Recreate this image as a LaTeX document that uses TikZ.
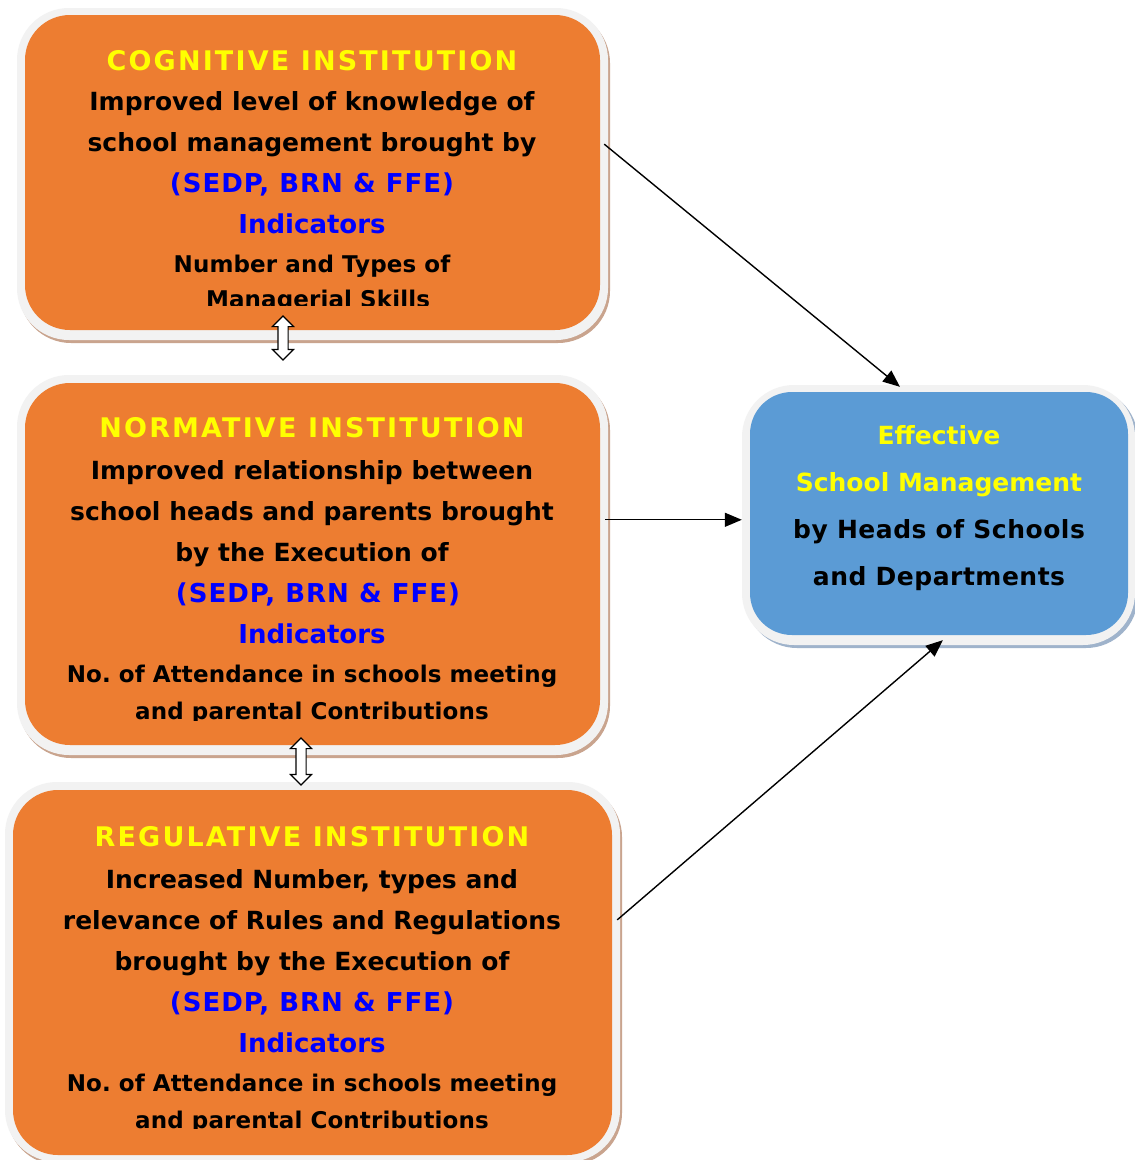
\documentclass[tikz,border=0pt]{standalone}
\usepackage{fontspec}
\setmainfont{DejaVu Sans}
\usetikzlibrary{shapes.arrows,arrows.meta,calc}
\definecolor{orng}{HTML}{ED7D31}
\definecolor{bluebox}{HTML}{5B9BD5}
\definecolor{halo}{HTML}{F2F2F2}
\definecolor{brsh}{HTML}{C9A48E}
\definecolor{blsh}{HTML}{9FB3CB}
\definecolor{ylw}{HTML}{FFFF00}
\definecolor{blu}{HTML}{0000FF}
\begin{document}
\begin{tikzpicture}[x=1pt,y=-1pt,
  panel/.style={rectangle, inner sep=0, draw=none, rounded corners=45pt},
  halobox/.style={rectangle, inner sep=0, draw=none, fill=halo, rounded corners=52pt},
  shadowbox/.style={rectangle, inner sep=0, draw=none, rounded corners=52pt},
  txt/.style={font=\bfseries\fontsize{25}{28}\selectfont, anchor=base, inner sep=0},
  small/.style={txt, font=\bfseries\fontsize{23}{26}\selectfont\addfontfeature{LetterSpace=0.5}},
  ttl/.style={txt, text=ylw, font=\bfseries\fontsize{27}{30}\selectfont\addfontfeature{LetterSpace=8}},
  ettl/.style={txt, text=ylw, font=\bfseries\fontsize{25}{28}\selectfont},
  etxt/.style={txt, font=\bfseries\fontsize{25}{28}\selectfont\addfontfeature{LetterSpace=2}},
  bl/.style={txt, text=blu, font=\bfseries\fontsize{26}{28}\selectfont\addfontfeature{LetterSpace=4}},
  ind/.style={txt, text=blu, font=\bfseries\fontsize{26}{28}\selectfont},
  dblarrow/.style={double arrow, rotate=90, draw=black, fill=white, line width=1.1pt,
    inner xsep=0pt, inner ysep=4.5pt, double arrow head extend=5.5pt, double arrow tip angle=90},
  arr/.style={-{Triangle[length=17pt,width=14pt]}, line width=1.4pt}
]
\useasboundingbox (0,0) rectangle (1135,1160);
\fill[white] (0,0) rectangle (1135,1160);

% ---------- box 1: cognitive
\node[shadowbox, fill=brsh, minimum width=591, minimum height=332] (cogS) at (314.5,177) {};
\node[halobox, minimum width=591, minimum height=332] (cogH) at (312.5,174) {};
\node[panel, fill=orng, minimum width=575, minimum height=315] (cog) at (312.5,172.5) {};
\begin{scope}
\clip (25,15) rectangle (600,305);
\node[ttl] (c1) at (312,70) {COGNITIVE INSTITUTION};
\node[txt] (c2) at (312,110) {Improved level of knowledge of};
\node[txt] (c3) at (312,151) {school management brought by};
\node[bl]  (c4) at (312,192) {(SEDP, BRN \& FFE)};
\node[ind] (c5) at (312,233) {Indicators};
\node[small] (c6) at (312,272) {Number and Types of};
\node[small] (c7) at (318,307) {Managerial Skills};
\end{scope}

% ---------- box 2: normative
\node[shadowbox, fill=brsh, minimum width=591, minimum height=380] (norS) at (314.5,568) {};
\node[halobox, minimum width=591, minimum height=380] (norH) at (312.5,565) {};
\node[panel, fill=orng, minimum width=575, minimum height=362] (nor) at (312.5,564) {};
\begin{scope}
\clip (25,383) rectangle (600,720);
\node[ttl] (n1) at (312,437) {NORMATIVE INSTITUTION};
\node[txt] (n2) at (312,479) {Improved relationship between};
\node[txt] (n3) at (312,520) {school heads and parents brought};
\node[txt] (n4) at (312,561) {by the Execution of};
\node[bl]  (n5) at (318,602) {(SEDP, BRN \& FFE)};
\node[ind] (n6) at (312,643) {Indicators};
\node[small] (n7) at (312,682) {No.\ of Attendance in schools meeting};
\node[small] (n8) at (312,719) {and parental Contributions};
\end{scope}

% ---------- box 3: regulative
\node[shadowbox, fill=brsh, minimum width=615, minimum height=380] (regS) at (314.5,975) {};
\node[halobox, minimum width=615, minimum height=380] (regH) at (312.5,972) {};
\node[panel, fill=orng, minimum width=599, minimum height=365] (reg) at (312.5,972.5) {};
\begin{scope}
\clip (13,790) rectangle (612,1128);
\node[ttl] (r1) at (312,846) {REGULATIVE INSTITUTION};
\node[txt] (r2) at (312,888) {Increased Number, types and};
\node[txt] (r3) at (312,929) {relevance of Rules and Regulations};
\node[txt] (r4) at (312,970) {brought by the Execution of};
\node[bl]  (r5) at (312,1011) {(SEDP, BRN \& FFE)};
\node[ind] (r6) at (312,1052) {Indicators};
\node[small] (r7) at (312,1091) {No.\ of Attendance in schools meeting};
\node[small] (r8) at (312,1128) {and parental Contributions};
\end{scope}

% ---------- outcome box
\node[shadowbox, fill=blsh, minimum width=393, minimum height=260] (effS) at (941.5,518) {};
\node[halobox, minimum width=393, minimum height=260] (effH) at (938.5,515) {};
\node[panel, fill=bluebox, rounded corners=42pt, minimum width=378, minimum height=243] (eff) at (939,513.5) {};
\node[ettl] (e1) at (939,444) {Effective};
\node[ettl] (e2) at (939,491) {School Management};
\node[etxt] (e3) at (939,538) {by Heads of Schools};
\node[etxt] (e4) at (939,585) {and Departments};

% ---------- double arrows between institutions
\node[dblarrow, minimum height=44pt] (d1) at (283,338) {};
\node[dblarrow, minimum height=47pt] (d2) at (301,761.5) {};

% ---------- arrows to outcome
\coordinate (a1s) at ($(cog.north east)!0.41!(cog.south east)+(4,0)$);
\coordinate (a1e) at ($(effH.north west)!0.402!(effH.north east)+(0,2)$);
\draw[arr] (a1s) -- (a1e);
\coordinate (a2s) at ($(nor.north east)!0.378!(nor.south east)+(5,0)$);
\draw[arr] (a2s) -- (a2s -| effH.west);
\coordinate (a3s) at ($(reg.north east)!0.356!(reg.south east)+(5,0)$);
\coordinate (a3e) at ($(effH.south west)!0.511!(effH.south east)+(0,-5)$);
\draw[arr] (a3s) -- (a3e);
\end{tikzpicture}
\end{document}
